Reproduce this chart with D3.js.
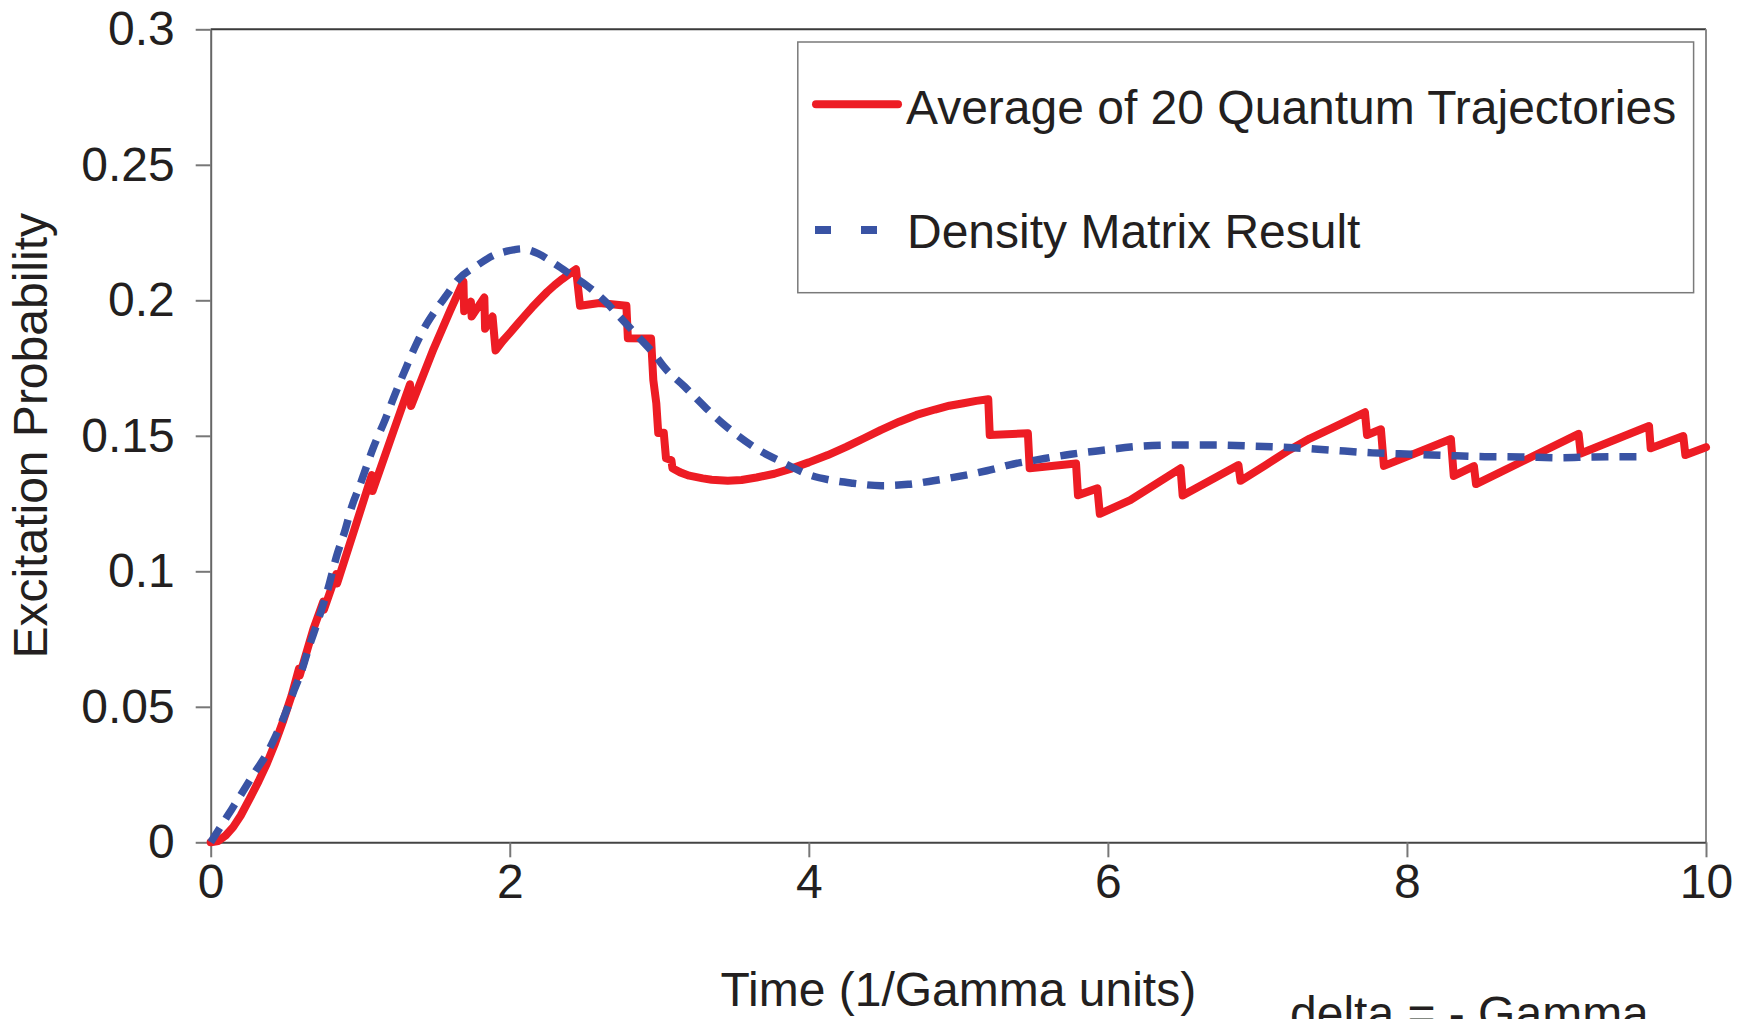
<!DOCTYPE html>
<html>
<head>
<meta charset="utf-8">
<script src="https://cdn.jsdelivr.net/npm/d3@7"></script>
<style>
  body { margin: 0; background: #fff; }
  text { font-family: "Liberation Sans", Arial, sans-serif; fill: #231f20; }
</style>
</head>
<body>
<div id="chart"></div>
<script>
// average of 20 quantum trajectories (red) - time and probability
var trajTime = [0, 0.05, 0.1, 0.15, 0.2, 0.26, 0.32, 0.375, 0.43, 0.486, 0.54, 0.59, 0.595, 0.686, 0.753, 0.757,
    0.84, 0.845, 0.976, 1.077, 1.082, 1.221, 1.333, 1.34, 1.49, 1.6, 1.69, 1.695, 1.74, 1.745, 1.83, 1.835,
    1.885, 1.905, 1.95, 2.0, 2.05, 2.1, 2.15, 2.2, 2.25, 2.3, 2.35, 2.4, 2.443, 2.47, 2.6, 2.78, 2.79,
    2.945, 2.96, 2.98, 2.993, 3.03, 3.045, 3.081, 3.088, 3.14, 3.2, 3.291, 3.35, 3.458, 3.55, 3.65, 3.77,
    3.888, 4.0, 4.127, 4.25, 4.366, 4.48, 4.605, 4.72, 4.844, 4.94, 5.035, 5.12, 5.2, 5.21, 5.465, 5.477,
    5.787, 5.8, 5.93, 5.946, 6.15, 6.486, 6.5, 6.873, 6.887, 7.05, 7.214, 7.35, 7.495, 7.6, 7.719, 7.733,
    7.826, 7.846, 8.294, 8.313, 8.448, 8.462, 9.148, 9.162, 9.619, 9.63, 9.848, 9.862, 10];
var trajProb = [0, 0.0005, 0.0025, 0.0056, 0.0098, 0.016, 0.0225, 0.029, 0.0365, 0.045, 0.054, 0.064, 0.0615, 0.0786, 0.0888, 0.0858,
    0.099, 0.0955, 0.118, 0.1355, 0.1296, 0.1515, 0.169, 0.161, 0.182, 0.196, 0.207, 0.196, 0.1995, 0.194, 0.201, 0.1895,
    0.194, 0.1815, 0.1848, 0.1879, 0.1911, 0.1943, 0.1974, 0.2003, 0.2031, 0.2056, 0.2078, 0.2098, 0.2115, 0.198, 0.199, 0.198, 0.186,
    0.1859, 0.1706, 0.162, 0.151, 0.1511, 0.1417, 0.141, 0.138, 0.1365, 0.1353, 0.1343, 0.1338, 0.1334, 0.1337, 0.1346, 0.136,
    0.138, 0.1402, 0.1429, 0.1459, 0.149, 0.1521, 0.1552, 0.1577, 0.1597, 0.1611, 0.162, 0.1629, 0.1635, 0.1503, 0.1509, 0.138,
    0.1398, 0.1281, 0.1306, 0.1212, 0.1263, 0.138, 0.128, 0.1392, 0.1334, 0.139, 0.1448, 0.149, 0.1527, 0.1555, 0.1587, 0.1503,
    0.1524, 0.1389, 0.1488, 0.1352, 0.1388, 0.1322, 0.1507, 0.1435, 0.1536, 0.1454, 0.1499, 0.1429, 0.1458];

// density matrix result (blue dashed)
var dmTime = [0, 0.107, 0.207, 0.297, 0.374, 0.43, 0.497, 0.557, 0.608, 0.653, 0.72, 0.786, 0.842, 0.898,
    0.943, 0.998, 1.088, 1.166, 1.233, 1.31, 1.373, 1.433, 1.5, 1.567, 1.656, 1.78, 1.89, 2.024, 2.08,
    2.19, 2.3, 2.436, 2.514, 2.637, 2.737, 2.872, 2.98, 3.03, 3.17, 3.315, 3.423, 3.52, 3.685, 3.817,
    4.007, 4.139, 4.294, 4.485, 4.665, 4.832, 5.022, 5.19, 5.37, 5.524, 5.752, 5.942, 6.233, 6.486,
    6.72, 6.97, 7.24, 7.49, 7.77, 8.03, 8.28, 8.52, 8.76, 9.02, 9.25, 9.55];
var dmProb = [0, 0.0093, 0.018, 0.026, 0.0326, 0.0387, 0.0472, 0.056, 0.0632, 0.0713, 0.0822, 0.0939, 0.1056, 0.115,
    0.1238, 0.1318, 0.1457, 0.1559, 0.1654, 0.1756, 0.1836, 0.1902, 0.196, 0.2011, 0.2077, 0.2128, 0.2165, 0.2186, 0.219,
    0.2172, 0.2135, 0.2084, 0.2055, 0.1997, 0.1938, 0.1858, 0.1792, 0.1755, 0.1681, 0.1601, 0.1546, 0.1503, 0.1441, 0.1404,
    0.1355, 0.1337, 0.1325, 0.1316, 0.1321, 0.1334, 0.1352, 0.1371, 0.1396, 0.1411, 0.1432, 0.1445, 0.1462, 0.1466,
    0.1466, 0.1462, 0.1456, 0.1447, 0.1437, 0.1432, 0.1427, 0.1423, 0.1422, 0.1419, 0.1422, 0.1423];

// tick values and their labels
var xTicks = [0, 2, 4, 6, 8, 10];
var yTicks = [0, 0.05, 0.1, 0.15, 0.2, 0.25, 0.3];
var yTickLabels = ["0", "0.05", "0.1", "0.15", "0.2", "0.25", "0.3"];

var seriesNames = ["Average of 20 Quantum Trajectories", "Density Matrix Result"];

var svgWidth = 1737, svgHeight = 1019;
var margin = { top: 29.3, left: 210.7, right: 31, bottom: 176.7 };
var width = svgWidth - margin.left - margin.right;
var height = svgHeight - margin.top - margin.bottom;

var red = "#ed1c24";
var blue = "#3953a4";

var svg = d3.select("#chart").append("svg")
    .attr("width", svgWidth).attr("height", svgHeight)
    .style("display", "block");
svg.append("rect").attr("width", svgWidth).attr("height", svgHeight).attr("fill", "#fff");

var chartGroup = svg.append("g").attr("transform", `translate(${margin.left}, ${margin.top})`);

var xScale = d3.scaleLinear().domain([0, 10]).range([0, width]);
var yScale = d3.scaleLinear().domain([0, 0.3]).range([height, 0]);

// top and right border of the plot area
chartGroup.append("line")
    .attr("x1", 0).attr("x2", width).attr("y1", 0).attr("y2", 0)
    .attr("stroke", "#3a3a3a").attr("stroke-width", 2);
chartGroup.append("line")
    .attr("x1", width).attr("x2", width).attr("y1", 0).attr("y2", height)
    .attr("stroke", "#8a8a8a").attr("stroke-width", 2);

// axes
var xAxis = d3.axisBottom(xScale).tickValues(xTicks).tickFormat(d3.format("d"))
    .tickSize(15).tickSizeOuter(0).tickPadding(7);
var yAxis = d3.axisLeft(yScale).tickValues(yTicks).tickFormat((d, i) => yTickLabels[i])
    .tickSize(15).tickSizeOuter(0).tickPadding(21);

var gx = chartGroup.append("g").attr("transform", `translate(0, ${height})`).call(xAxis);
var gy = chartGroup.append("g").call(yAxis);

gx.select(".domain").attr("stroke", "#444").attr("stroke-width", 2);
gy.select(".domain").attr("stroke", "#666").attr("stroke-width", 2);
chartGroup.selectAll(".tick line").attr("stroke", "#777").attr("stroke-width", 2);
chartGroup.selectAll(".tick text")
    .attr("font-family", "'Liberation Sans', Arial, sans-serif")
    .attr("font-size", 48)
    .attr("fill", "#231f20");

// straight segments for the jumpy red line, smooth one for the blue
var lineRed = d3.line()
    .x(d => xScale(d[0]))
    .y(d => yScale(d[1]));
var lineBlue = d3.line()
    .x(d => xScale(d[0]))
    .y(d => yScale(d[1]))
    .curve(d3.curveMonotoneX);

var trajData = trajTime.map((t, i) => [t, trajProb[i]]);
var dmData = dmTime.map((t, i) => [t, dmProb[i]]);

chartGroup.append("path")
    .datum(trajData)
    .attr("d", lineRed)
    .attr("fill", "none")
    .attr("stroke", red)
    .attr("stroke-width", 8)
    .attr("stroke-linejoin", "round")
    .attr("stroke-linecap", "round");

chartGroup.append("path")
    .datum(dmData)
    .attr("d", lineBlue)
    .attr("fill", "none")
    .attr("stroke", blue)
    .attr("stroke-width", 7.5)
    .attr("stroke-dasharray", "17,11");

// axis titles
svg.append("text")
    .attr("transform", `translate(47.4, ${margin.top + height / 2}) rotate(-90)`)
    .attr("text-anchor", "middle")
    .attr("font-size", 48)
    .text("Excitation Probability");

svg.append("text")
    .attr("x", margin.left + width / 2)
    .attr("y", 1006)
    .attr("text-anchor", "middle")
    .attr("font-size", 48)
    .text("Time (1/Gamma units)");

// note below the chart, cut off by the picture edge like in the original
svg.append("text")
    .attr("x", 1290)
    .attr("y", 1030)
    .attr("font-size", 48)
    .text("delta = - Gamma");

// legend
var legend = svg.append("g");
legend.append("rect")
    .attr("x", 797.8).attr("y", 42)
    .attr("width", 895.8).attr("height", 250.7)
    .attr("fill", "#fff")
    .attr("stroke", "#7a7a7a").attr("stroke-width", 1.5);

legend.append("line")
    .attr("x1", 816).attr("x2", 898).attr("y1", 104.3).attr("y2", 104.3)
    .attr("stroke", red).attr("stroke-width", 8).attr("stroke-linecap", "round");
legend.append("text")
    .attr("x", 906).attr("y", 124)
    .attr("font-size", 48)
    .text(seriesNames[0]);

legend.append("line")
    .attr("x1", 815).attr("x2", 877).attr("y1", 230).attr("y2", 230)
    .attr("stroke", blue).attr("stroke-width", 8).attr("stroke-dasharray", "16,30");
legend.append("text")
    .attr("x", 907).attr("y", 248)
    .attr("font-size", 48)
    .text(seriesNames[1]);
</script>
</body>
</html>
